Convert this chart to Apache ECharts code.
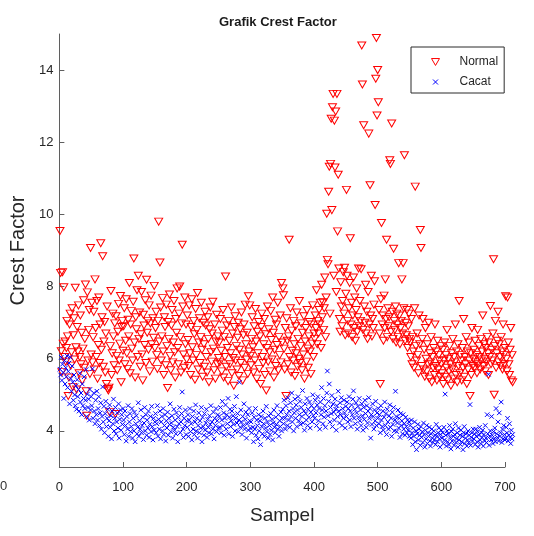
<!DOCTYPE html>
<html>
<head>
<meta charset="utf-8">
<script src="https://cdn.jsdelivr.net/npm/echarts@6/dist/echarts.min.js"></script>
<style>
  html, body { margin: 0; padding: 0; background: #fff; }
  #chart { width: 534px; height: 536px; }
</style>
</head>
<body>
<div id="chart"></div>
<script>
// Crest factor per sample for the two conditions
const normal = [
  9.54, 8.38, 6.21, 5.63, 8.40, 6.42, 7.98, 6.05, 6.48, 5.92,
  6.30, 7.05, 6.62, 4.97, 5.48, 6.95, 7.25, 5.81, 6.18, 7.40,
  5.22, 6.65, 7.12, 5.98, 7.97, 6.32, 5.15, 6.88, 6.20, 7.48,
  5.60, 6.05, 7.20, 5.85, 6.72, 5.40, 6.28, 7.62, 5.75, 6.55,
  8.06, 5.10, 4.42, 7.84, 5.95, 6.80, 7.35, 5.58, 9.07, 6.12,
  7.55, 5.90, 6.60, 7.30, 5.70, 8.20, 6.85, 6.05, 7.60, 5.45,
  6.38, 7.70, 5.88, 6.95, 9.20, 6.25, 7.15, 8.84, 5.78, 6.48,
  7.02, 5.62, 6.70, 5.30, 7.45, 5.16, 5.12, 5.20, 4.52, 6.35,
  7.88, 5.55, 6.15, 7.25, 6.62, 5.82, 6.98, 4.47, 7.18, 6.08,
  5.68, 6.75, 7.52, 5.95, 6.42, 7.74, 5.35, 6.88, 7.05, 6.22,
  6.90, 7.40, 5.85, 6.50, 7.65, 6.15, 5.72, 7.08, 6.62, 8.10,
  5.60, 6.95, 7.32, 6.28, 5.95, 7.58, 8.78, 6.45, 5.48, 7.15,
  6.82, 7.90, 6.05, 8.30, 6.55, 7.28, 5.78, 6.68, 7.85, 6.12,
  5.40, 7.22, 6.92, 6.38, 7.62, 5.88, 8.19, 6.72, 7.05, 6.25,
  7.48, 5.65, 6.98, 7.75, 6.40, 5.92, 7.12, 6.58, 8.02, 6.30,
  6.85, 7.30, 6.10, 5.72, 7.05, 9.80, 6.48, 8.67, 7.42, 5.95,
  6.62, 7.68, 6.20, 5.55, 7.15, 6.88, 5.82, 7.50, 6.35, 5.19,
  7.02, 6.55, 7.78, 6.08, 5.68, 6.92, 7.35, 5.90, 6.45, 7.60,
  6.18, 5.48, 7.10, 6.72, 7.95, 6.30, 5.85, 7.25, 8.00, 6.60,
  5.62, 6.98, 9.16, 7.45, 6.12, 5.75, 7.70, 6.40, 6.95, 5.98,
  7.20, 6.52, 5.80, 7.48, 6.15, 5.55, 6.88, 7.65, 6.32, 5.95,
  7.05, 6.68, 5.42, 7.38, 6.10, 6.80, 7.82, 5.70, 6.45, 7.12,
  5.88, 6.60, 7.55, 6.25, 5.50, 7.00, 6.40, 5.78, 7.30, 6.92,
  6.05, 5.62, 7.15, 6.55, 5.35, 6.82, 7.42, 6.18, 5.92, 6.70,
  7.58, 6.28, 5.68, 6.95, 5.45, 6.48, 7.22, 5.85, 6.62, 6.02,
  6.45, 5.90, 7.10, 6.22, 5.65, 6.78, 7.35, 5.48, 6.60, 6.05,
  8.28, 5.78, 6.92, 6.30, 5.38, 7.05, 6.50, 5.85, 6.15, 7.42,
  5.60, 6.70, 6.02, 5.25, 6.88, 7.18, 5.95, 6.35, 5.70, 6.58,
  7.00, 5.52, 6.25, 6.82, 5.88, 7.28, 6.12, 5.40, 6.65, 6.95,
  5.75, 7.50, 6.40, 5.98, 6.72, 5.58, 7.73, 6.20, 7.48, 6.08,
  5.82, 6.55, 7.15, 6.32, 5.62, 6.90, 5.95, 7.38, 6.48, 5.45,
  6.75, 6.15, 7.02, 5.72, 6.62, 5.30, 6.88, 7.25, 6.05, 5.88,
  6.40, 7.10, 5.55, 6.68, 5.12, 6.30, 7.45, 5.92, 6.82, 6.18,
  5.65, 7.32, 6.52, 5.98, 7.70, 6.72, 5.48, 6.25, 7.08, 5.80,
  6.95, 6.38, 7.55, 5.68, 6.60, 6.10, 7.20, 5.90, 8.10, 6.45,
  7.95, 7.76, 6.28, 5.70, 6.85, 4.97, 7.12, 6.50, 5.85, 6.62,
  9.30, 6.05, 7.40, 5.62, 6.78, 6.22, 5.95, 7.05, 6.40, 5.52,
  6.90, 6.15, 7.28, 5.78, 6.55, 6.00, 7.60, 5.88, 6.35, 6.98,
  5.68, 6.72, 6.12, 7.18, 5.45, 6.48, 6.85, 5.92, 7.35, 6.28,
  5.75, 6.62, 7.02, 6.20, 5.58, 6.95, 6.42, 7.48, 6.05, 6.70,
  6.55, 7.20, 6.85, 7.90, 6.40, 7.05, 6.70, 7.35, 6.95, 7.55,
  6.30, 8.05, 7.15, 7.57, 6.80, 7.40, 8.25, 6.60, 7.70, 10.02,
  8.74, 8.62, 10.63, 11.32, 7.25, 11.40, 12.65, 10.12, 12.97, 13.34,
  8.30, 12.60, 11.30, 12.85, 7.85, 13.34, 9.53, 11.10, 8.50, 7.10,
  6.75, 8.12, 7.45, 6.90, 7.60, 8.40, 7.25, 8.52, 6.65, 7.80,
  10.68, 8.30, 7.05, 6.70, 7.40, 8.10, 9.34, 6.95, 7.55, 6.60,
  7.20, 8.25, 6.85, 7.70, 6.50, 7.35, 7.95, 6.75, 7.15, 8.50,
  6.90, 7.60, 7.05, 8.48, 14.68, 13.60, 6.80, 12.47, 7.45, 7.00,
  8.05, 6.70, 7.30, 6.55, 7.85, 12.24, 6.95, 10.81, 7.20, 8.30,
  6.62, 7.10, 6.85, 7.50, 8.15, 10.26, 13.76, 14.89, 12.74, 14.00,
  13.11, 7.35, 6.70, 5.30, 7.65, 9.76, 6.95, 7.20, 6.50, 7.75,
  6.85, 8.20, 7.10, 9.30, 6.60, 7.40, 6.90, 7.15, 11.50, 11.40,
  6.75, 12.52, 7.30, 6.55, 9.05, 7.05, 6.80, 7.45, 6.45, 7.25,
  6.95, 6.60, 8.65, 7.20, 6.40, 6.85, 7.05, 8.20, 6.70, 8.65,
  7.40, 11.64, 6.50, 7.00, 6.65, 7.35, 6.30, 6.90, 7.25, 6.55,
  6.45, 6.05, 7.10, 5.85, 6.60, 6.20, 5.75, 7.40, 10.77, 6.35,
  5.95, 6.70, 6.10, 5.60, 7.20, 6.40, 9.57, 9.07, 5.80, 6.55,
  7.10, 5.70, 6.25, 5.50, 6.85, 6.00, 5.65, 6.40, 5.85, 7.00,
  5.45, 6.15, 5.90, 6.60, 5.35, 6.05, 5.75, 6.30, 5.55, 6.95,
  5.80, 6.20, 5.40, 6.50, 5.70, 6.10, 5.95, 5.50, 6.35, 5.85,
  5.60, 6.25, 5.30, 5.95, 6.45, 5.50, 6.10, 5.75, 6.80, 5.40,
  6.00, 5.65, 6.35, 5.85, 5.25, 6.15, 5.70, 6.55, 5.45, 6.05,
  5.90, 6.95, 5.55, 6.20, 5.35, 6.40, 5.80, 7.60, 5.60, 6.10,
  5.95, 5.40, 6.30, 5.75, 7.10, 5.50, 6.05, 5.85, 6.60, 5.30,
  6.20, 5.70, 6.45, 5.95, 4.97, 6.15, 5.55, 6.85, 5.80, 6.00,
  6.25, 5.75, 6.50, 5.90, 6.10, 5.60, 6.80, 5.85, 6.35, 6.05,
  5.70, 6.55, 5.95, 6.20, 7.20, 5.80, 6.40, 6.00, 5.65, 6.30,
  5.90, 6.60, 6.15, 5.55, 6.45, 6.05, 7.46, 5.85, 6.25, 5.95,
  6.70, 8.76, 5.00, 6.35, 7.05, 5.75, 6.15, 6.50, 7.30, 5.90,
  6.40, 6.05, 5.80, 6.60, 6.20, 5.70, 6.95, 6.10, 5.85, 6.30,
  7.73, 6.00, 5.65, 7.70, 6.45, 5.85, 5.55, 6.25, 6.85, 5.40,
  6.10, 5.35
];

const cacat = [
  5.71, 5.55, 6.04, 5.40, 5.85, 5.62, 4.90, 5.95, 5.30, 5.75,
  5.50, 6.08, 5.20, 5.65, 5.88, 4.75, 6.04, 5.45, 5.10, 5.80,
  5.35, 4.85, 5.55, 5.00, 4.70, 5.25, 4.60, 5.42, 4.95, 5.15,
  4.55, 5.60, 4.80, 5.05, 4.45, 5.30, 4.70, 4.90, 5.50, 4.62,
  4.85, 5.70, 4.40, 5.02, 4.65, 4.88, 4.30, 5.15, 4.58, 4.95,
  4.70, 5.72, 4.35, 5.05, 4.55, 4.20, 4.85, 4.45, 5.10, 4.30,
  4.62, 4.95, 4.15, 4.50, 4.78, 4.05, 4.40, 5.22, 4.25, 4.68,
  3.95, 4.48, 4.82, 4.12, 4.35, 4.60, 3.85, 4.28, 4.72, 4.10,
  4.42, 3.78, 4.55, 4.20, 4.88, 4.00, 4.35, 4.65, 3.92, 4.25,
  4.50, 4.08, 4.75, 3.80, 4.32, 4.58, 4.02, 4.45, 4.18, 4.62,
  4.30, 3.90, 4.55, 4.15, 3.72, 4.40, 4.05, 4.70, 3.85, 4.25,
  4.48, 3.98, 4.12, 4.62, 3.80, 4.35, 4.00, 4.52, 3.70, 4.20,
  4.42, 3.92, 4.10, 4.78, 3.85, 4.28, 4.05, 4.58, 3.95, 4.15,
  4.38, 3.76, 4.22, 4.65, 4.00, 4.45, 3.88, 4.30, 4.08, 4.55,
  3.82, 4.18, 4.40, 3.98, 4.68, 4.12, 3.75, 4.35, 4.02, 4.25,
  4.48, 3.95, 4.20, 4.70, 3.85, 4.32, 4.05, 4.55, 3.78, 4.25,
  4.40, 4.00, 4.62, 3.90, 4.15, 4.45, 3.72, 4.28, 4.08, 4.52,
  3.88, 4.35, 4.18, 4.75, 3.98, 4.22, 4.42, 3.80, 4.10, 4.60,
  4.02, 4.30, 3.92, 4.50, 4.12, 3.70, 4.38, 4.20, 4.65, 3.95,
  4.25, 4.48, 5.08, 4.05, 3.82, 4.35, 4.15, 4.58, 3.90, 4.28,
  4.10, 4.45, 3.85, 4.30, 4.62, 3.98, 4.20, 3.75, 4.40, 4.05,
  4.55, 3.90, 4.25, 4.72, 4.00, 4.35, 3.80, 4.15, 4.50, 3.95,
  4.28, 4.08, 4.65, 3.70, 4.38, 4.12, 3.88, 4.48, 4.02, 4.22,
  4.60, 3.82, 4.32, 4.10, 3.95, 4.42, 4.18, 4.70, 3.92, 4.25,
  4.05, 4.52, 3.78, 4.35, 4.15, 4.62, 3.98, 4.28, 4.45, 4.08,
  4.40, 4.10, 4.65, 3.95, 4.30, 4.82, 4.15, 4.50, 3.88, 4.35,
  4.72, 4.05, 4.45, 4.20, 4.90, 3.92, 4.38, 4.60, 4.12, 4.28,
  4.55, 3.85, 4.42, 4.18, 4.68, 4.00, 4.35, 4.95, 4.22, 4.48,
  3.98, 4.30, 5.35, 4.10, 4.58, 4.25, 3.90, 4.40, 4.15, 4.75,
  4.05, 4.32, 4.52, 3.80, 4.20, 4.45, 4.02, 4.62, 4.28, 4.08,
  4.25, 3.95, 4.50, 4.10, 3.70, 4.38, 4.05, 4.62, 3.88, 4.30,
  4.15, 3.78, 4.45, 4.00, 4.28, 3.62, 4.40, 4.12, 3.92, 4.55,
  4.20, 3.85, 4.35, 4.08, 4.68, 3.98, 4.25, 3.80, 4.42, 4.15,
  3.90, 4.48, 4.02, 4.32, 3.75, 4.22, 4.58, 4.10, 3.95, 4.38,
  4.18, 4.70, 4.05, 4.45, 3.85, 4.28, 4.12, 4.52, 4.00, 4.35,
  4.60, 4.20, 4.85, 4.35, 4.05, 4.70, 4.45, 4.15, 4.92, 4.30,
  4.55, 4.10, 4.78, 4.40, 5.05, 4.25, 4.62, 4.00, 4.50, 4.88,
  4.35, 4.72, 4.12, 4.58, 4.95, 4.28, 4.45, 4.82, 4.18, 4.65,
  4.40, 5.12, 4.22, 4.55, 4.02, 4.75, 4.48, 4.30, 4.90, 4.15,
  4.60, 4.38, 4.80, 4.08, 4.52, 4.70, 4.25, 5.00, 4.42, 4.62,
  4.35, 4.85, 4.50, 4.15, 4.72, 4.95, 4.28, 4.62, 4.05, 4.80,
  4.45, 5.20, 4.58, 4.20, 4.90, 4.38, 4.70, 4.10, 4.55, 5.05,
  5.66, 4.42, 4.82, 5.30, 4.25, 4.65, 4.48, 4.98, 4.12, 4.75,
  4.52, 4.30, 4.88, 4.60, 4.02, 4.70, 4.40, 5.10, 4.55, 4.22,
  4.78, 4.45, 4.92, 4.15, 4.62, 4.35, 4.85, 4.50, 4.08, 4.68,
  4.40, 4.80, 4.25, 4.62, 4.95, 4.30, 4.55, 4.12, 4.72, 4.45,
  4.88, 5.11, 4.35, 4.60, 4.20, 4.78, 4.50, 4.05, 4.68, 4.38,
  4.90, 4.28, 4.58, 4.15, 4.75, 4.42, 4.02, 4.65, 4.32, 4.85,
  4.48, 4.10, 4.70, 4.22, 4.55, 4.92, 4.35, 4.62, 3.80, 4.45,
  4.18, 4.75, 4.40, 4.05, 4.58, 4.28, 4.82, 4.15, 4.50, 4.35,
  4.62, 4.20, 4.45, 3.95, 4.70, 4.30, 4.12, 4.55, 4.02, 4.38,
  4.80, 4.15, 4.48, 3.90, 4.60, 4.25, 4.05, 4.42, 4.72, 4.10,
  4.35, 3.85, 4.52, 4.18, 4.65, 4.00, 4.30, 5.10, 4.40, 3.98,
  4.22, 4.58, 4.08, 4.35, 3.82, 4.48, 4.15, 4.28, 3.92, 4.45,
  4.05, 4.20, 3.88, 4.38, 4.12, 3.95, 4.30, 4.02, 4.25, 3.85,
  4.15, 3.80, 4.30, 3.95, 3.62, 4.08, 3.85, 4.25, 3.70, 4.00,
  3.48, 3.92, 4.18, 3.75, 4.05, 3.88, 3.60, 4.12, 3.82, 3.98,
  3.68, 4.22, 3.90, 3.55, 4.02, 3.78, 4.15, 3.65, 3.95, 3.85,
  4.10, 3.72, 3.58, 3.92, 4.05, 3.80, 3.68, 4.00, 3.75, 3.88,
  3.62, 4.18, 3.85, 3.70, 3.95, 4.08, 3.78, 3.55, 3.90, 4.02,
  3.80, 3.95, 3.65, 4.10, 3.75, 5.02, 3.88, 3.58, 4.00, 3.70,
  3.92, 3.62, 4.15, 3.82, 3.50, 3.98, 3.72, 4.05, 3.85, 3.60,
  3.90, 4.20, 3.68, 3.78, 3.95, 3.55, 4.08, 3.75, 3.88, 3.62,
  4.02, 3.70, 3.85, 3.48, 3.95, 4.12, 3.65, 3.80, 3.92, 3.58,
  3.75, 4.00, 3.68, 3.88, 4.73, 3.60, 3.82, 3.95, 3.72, 4.05,
  3.78, 3.92, 3.62, 4.05, 3.85, 3.70, 3.98, 3.55, 3.88, 4.10,
  3.75, 3.65, 3.95, 3.82, 4.02, 3.58, 3.90, 3.72, 4.15, 3.80,
  3.68, 4.45, 3.92, 5.57, 3.60, 3.85, 4.00, 3.75, 4.40, 3.88,
  3.65, 3.98, 3.78, 4.08, 3.70, 4.62, 3.92, 3.82, 4.25, 3.72,
  4.50, 3.85, 3.95, 4.80, 3.68, 4.05, 3.78, 4.15, 3.90, 3.75,
  3.80, 4.10, 3.95, 4.35, 3.72, 3.88, 4.20, 3.82, 3.65, 4.02,
  3.78, 3.90
];

const xTicks = [0, 100, 200, 300, 400, 500, 600, 700];
const yTicks = [4, 6, 8, 10, 12, 14];

const seriesNames = ['Normal', 'Cacat'];

const toPoints = arr => arr.map((v, i) => [i + 1, v]);

const chart = echarts.init(document.getElementById('chart'), null, { renderer: 'canvas' });

const font = 'Liberation Sans, Arial, Helvetica, sans-serif';
const axisColor = '#5f5f5f';
const textColor = '#262626';
const red = '#ff0000';
const blue = '#0000ff';

// marker outlines: downward triangle and a cross
const triDown = 'path://M0,0L10,0L5,8.66Z';
const cross = 'path://M0,0L10,10M10,0L0,10';
// legend cross drawn a little smaller than its icon box
const crossLegend = 'path://M-2,-2L-2,-2M0,0L10,10M10,0L0,10M12,12L12,12';

chart.setOption({
  animation: false,
  backgroundColor: '#ffffff',
  textStyle: { fontFamily: font },
  title: {
    text: 'Grafik Crest Factor',
    left: 214,
    top: 11,
    textStyle: { fontSize: 13, fontWeight: 'bold', color: '#1a1a1a', fontFamily: font }
  },
  grid: { left: 59, right: 29, top: 34, bottom: 69, containLabel: false },
  legend: {
    orient: 'vertical',
    left: 411,
    top: 47,
    padding: [9, 6, 5, 20],
    itemGap: 8,
    itemWidth: 8,
    itemHeight: 7,
    symbolRotate: 0,
    borderColor: '#2b2b2b',
    borderWidth: 1,
    backgroundColor: '#ffffff',
    data: [
      { name: seriesNames[0], icon: triDown,
        itemStyle: { color: 'rgba(255,255,255,0)', borderColor: red, borderWidth: 1 } },
      { name: seriesNames[1], icon: crossLegend,
        itemStyle: { color: 'rgba(255,255,255,0)', borderColor: blue, borderWidth: 1 } }
    ],
    textStyle: { fontSize: 12, color: textColor, fontFamily: font, padding: [0, 0, 0, 15], lineHeight: 12 }
  },
  xAxis: {
    type: 'value',
    min: 0,
    max: 700,
    interval: 100,
    name: 'Sampel',
    nameLocation: 'middle',
    nameGap: 39,
    nameTextStyle: { fontSize: 19, color: textColor, fontFamily: font },
    axisLine: { show: true, lineStyle: { color: axisColor, width: 1 } },
    axisTick: { show: true, inside: true, length: 5, lineStyle: { color: axisColor } },
    axisLabel: { customValues: xTicks, fontSize: 13, color: textColor, margin: 14, fontFamily: font },
    splitLine: { show: false }
  },
  yAxis: {
    type: 'value',
    min: 3,
    max: 15,
    name: 'Crest Factor',
    nameLocation: 'middle',
    nameGap: 27,
    nameRotate: 90,
    nameTextStyle: { fontSize: 20, color: textColor, fontFamily: font },
    axisLine: { show: true, lineStyle: { color: axisColor, width: 1 } },
    axisTick: { show: true, inside: true, length: 5, customValues: yTicks, lineStyle: { color: axisColor } },
    axisLabel: { customValues: yTicks, fontSize: 13, color: textColor, margin: 6, fontFamily: font },
    splitLine: { show: false }
  },
  graphic: [
    {
      type: 'text',
      left: 0,
      top: 480,
      style: { text: '0', fontSize: 13, fill: '#333333', fontFamily: font }
    }
  ],
  series: [
    {
      name: seriesNames[0],
      type: 'scatter',
      data: toPoints(normal),
      clip: false,
      symbol: triDown,
      symbolSize: [8, 7],
      itemStyle: { color: 'rgba(255,255,255,0)', borderColor: red, borderWidth: 1, opacity: 1 },
      emphasis: { disabled: true }
    },
    {
      name: seriesNames[1],
      type: 'scatter',
      data: toPoints(cacat),
      clip: false,
      symbol: cross,
      symbolSize: 4.5,
      itemStyle: { color: 'rgba(0,0,255,0)', borderColor: blue, borderWidth: 1, opacity: 1 },
      emphasis: { disabled: true }
    }
  ]
});
</script>
</body>
</html>
